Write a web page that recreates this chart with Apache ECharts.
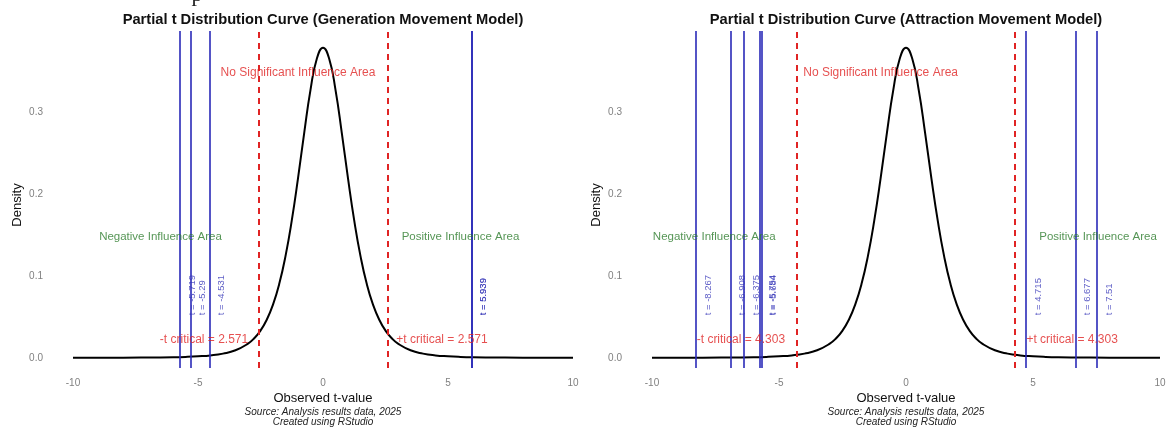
<!DOCTYPE html>
<html><head><meta charset="utf-8">
<script src="https://cdn.jsdelivr.net/npm/echarts@6/dist/echarts.min.js"></script>
<style>html,body{margin:0;padding:0;background:#fff}#c{width:1169px;height:432px}</style>
</head><body><div id="c"></div><script>
// t-value grid and density of the plotted curve
const tValues = [-10,-9,-8,-7,-6,-5.5,-5,-4.5,-4,-3.5,-3,-2.75,-2.5,-2.25,-2,-1.75,-1.5,-1.25,-1,-0.75,-0.5,-0.25,0,
  0.25,0.5,0.75,1,1.25,1.5,1.75,2,2.25,2.5,2.75,3,3.5,4,4.5,5,5.5,6,7,8,9,10];
const densityValues = [0.0000,0.0001,0.0001,0.0003,0.0007,0.0011,0.0018,0.0029,0.0051,0.0092,0.0173,0.0239,0.0333,0.0466,0.0651,0.0905,0.1245,0.1679,0.2197,0.2757,0.3279,0.3657,0.3796,
  0.3657,0.3279,0.2757,0.2197,0.1679,0.1245,0.0905,0.0651,0.0466,0.0333,0.0239,0.0173,0.0092,0.0051,0.0029,0.0018,0.0011,0.0007,0.0003,0.0001,0.0001,0.0000];
const genObserved = [-5.719, -5.29, -4.531, 5.939, 5.939];
const attObserved = [-8.267, -6.908, -6.375, -5.754, -5.684, 4.715, 6.677, 7.51];
const genCritical = 2.571;
const attCritical = 4.303;
const xTicks = [-10, -5, 0, 5, 10];
const yTicks = [0, 0.1, 0.2, 0.3];
const panelTitles = ['Partial t Distribution Curve (Generation Movement Model)', 'Partial t Distribution Curve (Attraction Movement Model)'];
const xTitle = 'Observed t-value';
const yTitle = 'Density';
const sourceLines = ['Source: Analysis results data, 2025', 'Created using RStudio'];

const FONT = '"Liberation Sans", Arial, sans-serif';
const grids = [
  {left: 73, top: 31, width: 500, height: 337},
  {left: 652, top: 31, width: 508, height: 337}
];
const centers = [323, 906];
const panels = [
  {obs: genObserved, crit: genCritical,
   ann: {noSig: [-1.0, 0.349], neg: [-6.5, 0.148], pos: [5.5, 0.148], negC: [-4.76, 0.022], posC: [4.76, 0.022]}},
  {obs: attObserved, crit: attCritical,
   ann: {noSig: [-1.0, 0.349], neg: [-7.55, 0.148], pos: [7.56, 0.148], negC: [-6.5, 0.022], posC: [6.54, 0.022]}}
];

const xAxis = [], yAxis = [], series = [];
panels.forEach((p, i) => {
  xAxis.push({type: 'value', gridIndex: i, min: xTicks[0], max: xTicks[xTicks.length-1], interval: 5,
    axisLine: {show: false}, axisTick: {show: false}, splitLine: {show: false},
    axisLabel: {color: '#808080', fontSize: 10, fontFamily: FONT, margin: 10}});
  yAxis.push({type: 'value', gridIndex: i, min: -0.0125, max: 0.4,
    axisLine: {show: false}, axisTick: {show: false}, splitLine: {show: false},
    axisLabel: {customValues: yTicks, formatter: v => v.toFixed(1), color: '#808080', fontSize: 10, fontFamily: FONT, margin: 30}});
  series.push({type: 'line', xAxisIndex: i, yAxisIndex: i, data: tValues.map((t, k) => [t, densityValues[k]]),
    smooth: true, showSymbol: false, lineStyle: {color: '#000', width: 2}, z: 3, silent: true,
    markLine: {silent: true, symbol: 'none', label: {show: false}, animation: false,
      lineStyle: {color: '#e02424', width: 2, type: [6, 5]},
      data: [{xAxis: -p.crit}, {xAxis: p.crit}]}});
  series.push({type: 'line', xAxisIndex: i, yAxisIndex: i, data: [], z: 4, silent: true,
    markLine: {silent: true, symbol: 'none', label: {show: false}, animation: false,
      lineStyle: {color: '#2a2ab8', width: 1.6, type: 'solid'},
      data: p.obs.map(v => ({xAxis: v}))}});
  series.push({type: 'scatter', xAxisIndex: i, yAxisIndex: i, symbolSize: 1, itemStyle: {color: 'transparent'}, z: 5, silent: true,
    data: p.obs.map(v => [v + 0.48, 0.052, v]),
    label: {show: true, position: 'inside', rotate: 90, align: 'left', verticalAlign: 'middle',
      formatter: q => 't = ' + q.value[2], color: '#3434b8', fontSize: 9.5, fontFamily: FONT}});
  const a = p.ann;
  const txt = [
    {value: a.noSig, text: 'No Significant Influence Area', color: '#e02424', size: 12},
    {value: a.neg, text: 'Negative Influence Area', color: '#2a7a2a', size: 11.5},
    {value: a.pos, text: 'Positive Influence Area', color: '#2a7a2a', size: 11.5},
    {value: a.negC, text: '-t critical = ' + p.crit, color: '#e02424', size: 12},
    {value: a.posC, text: '+t critical = ' + p.crit, color: '#e02424', size: 12}
  ];
  series.push({type: 'scatter', xAxisIndex: i, yAxisIndex: i, symbolSize: 1, itemStyle: {color: 'transparent'}, z: 6, silent: true,
    data: txt.map(d => ({value: d.value, label: {show: true, position: 'inside', formatter: d.text, color: d.color, fontSize: d.size, fontFamily: FONT}}))});
});

const graphic = [];
centers.forEach((cx, i) => {
  graphic.push({type: 'text', x: cx, y: 19.5, style: {text: panelTitles[i], font: 'bold 14.7px ' + FONT, fill: '#111', textAlign: 'center', textVerticalAlign: 'middle'}});
  graphic.push({type: 'text', x: cx, y: 398, style: {text: xTitle, font: '13px ' + FONT, fill: '#111', textAlign: 'center', textVerticalAlign: 'middle'}});
  graphic.push({type: 'text', x: cx, y: 412, style: {text: sourceLines[0], font: 'italic 10px ' + FONT, fill: '#222', textAlign: 'center', textVerticalAlign: 'middle'}});
  graphic.push({type: 'text', x: cx, y: 422.5, style: {text: sourceLines[1], font: 'italic 10px ' + FONT, fill: '#222', textAlign: 'center', textVerticalAlign: 'middle'}});
  graphic.push({type: 'text', x: grids[i].left - 56, y: 205, rotation: Math.PI / 2, style: {text: yTitle, font: '13px ' + FONT, fill: '#111', textAlign: 'center', textVerticalAlign: 'middle'}});
});
graphic.push({type: 'text', x: 197, y: -16, style: {text: 'p', font: '22px "Liberation Serif", serif', fill: '#222', textAlign: 'center', textVerticalAlign: 'top'}});

const chart = echarts.init(document.getElementById('c'), null, {renderer: 'canvas'});
chart.setOption({animation: false, backgroundColor: '#fff', grid: grids, xAxis, yAxis, series, graphic});
</script></body></html>
